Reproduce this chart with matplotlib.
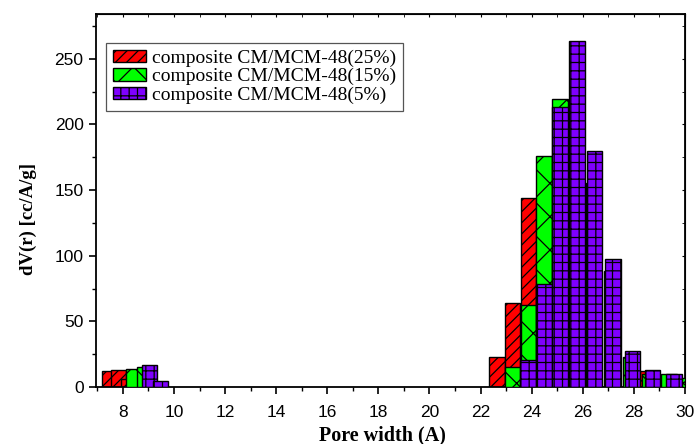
import matplotlib
matplotlib.use("Agg")
import matplotlib.pyplot as plt
from matplotlib.patches import Patch
from matplotlib.ticker import MultipleLocator
import numpy as np

# pore width bins (A) and dV(r) values
x_25 = [7.48, 7.84, 8.23, 22.64, 23.25, 23.87, 24.48, 25.11, 28.55]
y_25 = [12, 13, 6, 22.6, 63.8, 144, 60, 25, 12]

x_15 = [8.43, 8.85, 23.25, 23.87, 24.48, 25.11, 25.76, 26.42, 27.12, 27.88, 28.62, 29.38, 30.1]
y_15 = [13.7, 15, 15.5, 62.5, 175.6, 219.5, 200, 155, 88.7, 23, 10, 10, 7]

x_5 = [9.05, 9.47, 23.86, 24.48, 25.11, 25.78, 26.47, 27.19, 27.96, 28.74, 29.58]
y_5 = [17, 5, 20.6, 78.3, 212.9, 263.2, 179.9, 97.3, 27.7, 13, 10.4]

labels = ["composite CM/MCM-48(25%)", "composite CM/MCM-48(15%)", "composite CM/MCM-48(5%)"]
colors = ["#ff0000", "#00ff00", "#7f00ff"]
hatches = ["///", "x", "++"]

plt.rcParams["hatch.linewidth"] = 0.9

fig = plt.figure(figsize=(6.96, 4.44), dpi=100)
ax = fig.add_axes([0.138, 0.128, 0.846, 0.8405])

series = [(x_25, y_25), (x_15, y_15), (x_5, y_5)]
for i, (xs, ys) in enumerate(series):
    ax.bar(xs, ys, width=0.6, color=colors[i], edgecolor="black",
           linewidth=1.0, hatch=hatches[i], zorder=2 + i)

ax.set_xlim(6.95, 30)
ax.set_ylim(0, 284)
ax.xaxis.set_major_locator(MultipleLocator(2))
ax.xaxis.set_minor_locator(MultipleLocator(1))
ax.yaxis.set_major_locator(MultipleLocator(50))
ax.yaxis.set_minor_locator(MultipleLocator(25))
ax.set_xticks(np.arange(8, 31, 2))

for s in ax.spines.values():
    s.set_linewidth(1.3)
ax.tick_params(which="major", direction="out", length=5, width=1.2,
               labelsize=12.5)
ax.tick_params(axis="x", which="major", pad=8)
ax.tick_params(axis="y", which="major", pad=4)
ax.tick_params(which="minor", direction="out", length=3, width=1.0)
for lab in ax.get_xticklabels() + ax.get_yticklabels():
    lab.set_family("Liberation Sans")

# small inward ticks on top and right
top = ax.secondary_xaxis("top")
top.xaxis.set_major_locator(MultipleLocator(2))
top.xaxis.set_minor_locator(MultipleLocator(1))
top.tick_params(which="both", direction="in", length=2.5, labeltop=False)
right = ax.secondary_yaxis("right")
right.yaxis.set_major_locator(MultipleLocator(50))
right.yaxis.set_minor_locator(MultipleLocator(25))
right.tick_params(which="both", direction="in", length=2.5, labelright=False)

ax.set_xlabel("Pore width (A)", family="Liberation Serif", fontweight="bold",
              fontsize=14.5)
ax.xaxis.set_label_coords(0.487, -0.102)
ax.set_ylabel("dV(r) [cc/A/g]", family="Liberation Serif", fontweight="bold",
              fontsize=13.5)
ax.yaxis.set_label_coords(-0.10, 0.45)

handles = [Patch(facecolor=colors[i], edgecolor="black", hatch=hatches[i],
                 linewidth=1.0) for i in range(3)]
leg = ax.legend(handles, labels, loc="upper left", bbox_to_anchor=(0.017, 0.922),
                borderaxespad=0, prop={"family": "Liberation Serif", "size": 14},
                handlelength=1.7, handleheight=0.6, handletextpad=0.3,
                labelspacing=0.05, borderpad=0.35, fancybox=False,
                framealpha=1, edgecolor="#555555")
leg.get_frame().set_linewidth(0.9)

fig.savefig("out.png", dpi=100)
